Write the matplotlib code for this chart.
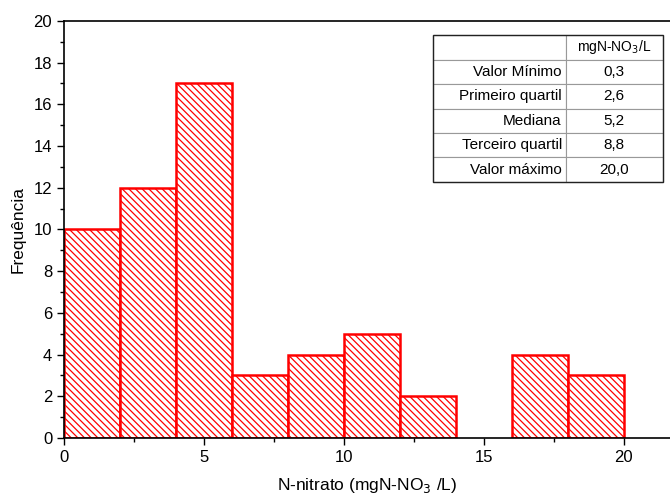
import numpy as np
import matplotlib
matplotlib.use("Agg")
import matplotlib.pyplot as plt
from matplotlib.patches import Rectangle
from matplotlib.ticker import MultipleLocator

plt.rcParams["font.family"] = ["Liberation Sans", "DejaVu Sans"]
plt.rcParams["hatch.linewidth"] = 0.9

# histogram of N-nitrato, bins of width 2
bin_left = np.array([0, 2, 4, 6, 8, 10, 12, 14, 16, 18])
counts = np.array([10, 12, 17, 3, 4, 5, 2, 0, 4, 3])
bin_width = 2

stat_names = ["Valor Mínimo", "Primeiro quartil", "Mediana", "Terceiro quartil", "Valor máximo"]
stat_values = ["0,3", "2,6", "5,2", "8,8", "20,0"]
unit_header = "mgN-NO$_3$/L"

fig = plt.figure(figsize=(6.7, 4.98), dpi=100)
ax = fig.add_axes([0.0955, 0.1205, 0.9045, 0.8375])

mask = counts > 0
ax.bar(bin_left[mask], counts[mask], width=bin_width, align="edge",
       facecolor="white", edgecolor="red", linewidth=1.8, hatch="\\\\\\\\\\", zorder=2)

ax.set_xlim(0, 21.65)
ax.set_ylim(0, 20)
ax.xaxis.set_major_locator(MultipleLocator(5))
ax.xaxis.set_minor_locator(MultipleLocator(2.5))
ax.yaxis.set_major_locator(MultipleLocator(2))
ax.yaxis.set_minor_locator(MultipleLocator(1))
ax.tick_params(which="major", direction="out", length=5, width=1, labelsize=12)
ax.tick_params(which="minor", direction="out", length=3, width=1)
ax.spines["right"].set_visible(False)
for s in ["left", "bottom", "top"]:
    ax.spines[s].set_linewidth(1.2)

ax.set_xlabel("N-nitrato (mgN-NO$_3$ /L)", fontsize=12.5, labelpad=8)
ax.set_ylabel("Frequência", fontsize=12.5, labelpad=6)

# summary table
rows = [["", unit_header]] + [[n, v] for n, v in zip(stat_names, stat_values)]
tbl_box = [0.609, 0.614, 0.379, 0.352]
tbl = ax.table(cellText=rows, colWidths=[0.578, 0.422], bbox=tbl_box, zorder=5)
tbl.auto_set_font_size(False)
tbl.set_fontsize(11)
for (r, c), cell in tbl.get_celld().items():
    cell.set_edgecolor("#999999")
    cell.set_linewidth(0.8)
    cell.set_facecolor("white")
    if c == 0:
        cell._loc = "right"
        cell.get_text().set_ha("right")
        cell.PAD = 0.03
    else:
        cell.get_text().set_ha("center")
        cell._loc = "center"
    if r == 0 and c == 1:
        cell.get_text().set_fontsize(10)
ax.add_patch(Rectangle((tbl_box[0], tbl_box[1]), tbl_box[2], tbl_box[3],
                       transform=ax.transAxes, fill=False, edgecolor="#222222",
                       linewidth=1.0, zorder=6))

fig.savefig("out.png", dpi=100)
